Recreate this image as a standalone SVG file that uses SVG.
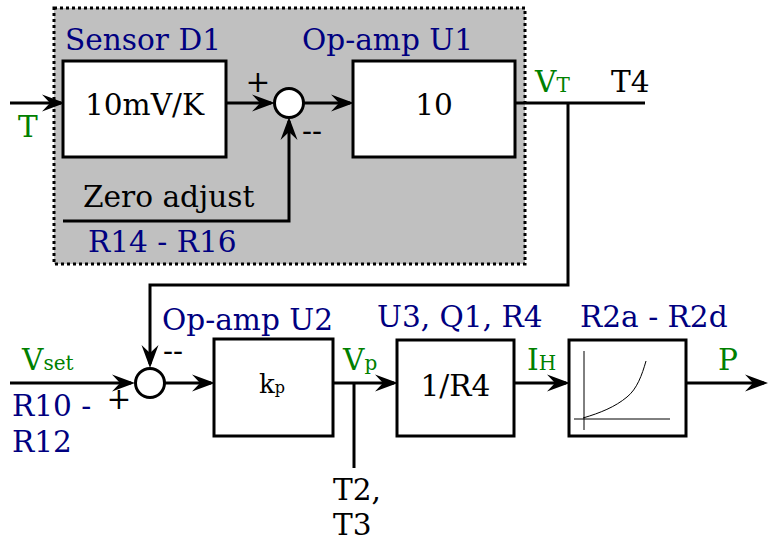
<svg xmlns="http://www.w3.org/2000/svg" width="769" height="542" viewBox="0 0 769 542">
<style>
text{font-family:"DejaVu Serif","Liberation Serif",serif;font-size:29.6px}
.b{fill:#000080}.g{fill:#008000}.k{fill:#000}
.box{fill:#fff;stroke:#000;stroke-width:3}
.w{fill:none;stroke:#000;stroke-width:3}
.thin{fill:none;stroke:#000;stroke-width:1}
.sub{font-size:20px}
</style>
<defs>
<marker id="ar" markerUnits="userSpaceOnUse" markerWidth="28" markerHeight="20" viewBox="-22 -10 28 20" refX="0" refY="0" orient="auto">
<path d="M4,0 L-19,-8.5 L-11,0 L-19,8.5 Z" fill="#000"/>
</marker>
</defs>
<g id="group-box">
<rect x="54" y="8" width="471" height="256" fill="#c0c0c0" stroke="#000" stroke-width="3" stroke-dasharray="3,3"/>
</g>
<g id="connectors">
<line class="w" x1="10" y1="103" x2="61" y2="103" marker-end="url(#ar)"/>
<line class="w" x1="226" y1="103" x2="271" y2="103" marker-end="url(#ar)"/>
<line class="w" x1="304" y1="103" x2="350" y2="103" marker-end="url(#ar)"/>
<polyline class="w" points="63,221 289,221 289,121" marker-end="url(#ar)"/>
<line class="w" x1="515" y1="103" x2="645" y2="103"/>
<polyline class="w" points="568,103 568,285 150,285 150,364" marker-end="url(#ar)"/>
<line class="w" x1="10" y1="383" x2="131" y2="383" marker-end="url(#ar)"/>
<line class="w" x1="165" y1="383" x2="211" y2="383" marker-end="url(#ar)"/>
<line class="w" x1="333" y1="383" x2="394" y2="383" marker-end="url(#ar)"/>
<line class="w" x1="354" y1="383" x2="354" y2="468"/>
<line class="w" x1="514" y1="383" x2="566" y2="383" marker-end="url(#ar)"/>
<line class="w" x1="686" y1="383" x2="764" y2="383" marker-end="url(#ar)"/>
</g>
<g id="sensor">
<rect class="box" x="63" y="61" width="163" height="96"/>
<text class="k" x="144.5" y="115" text-anchor="middle">10mV/K</text>
<text class="b" x="65" y="50">Sensor D1</text>
</g>
<g id="sum1">
<circle cx="289" cy="103" r="14.5" fill="#fff" stroke="#000" stroke-width="3"/>
<text class="k" x="258" y="92" text-anchor="middle">+</text>
<text class="k" x="302" y="141">--</text>
</g>
<g id="opamp-u1">
<rect class="box" x="353" y="61" width="162" height="96"/>
<text class="k" x="434" y="115" text-anchor="middle">10</text>
<text class="b" x="302" y="50">Op-amp U1</text>
</g>
<g id="labels-top">
<text class="g" x="18" y="137">T</text>
<text class="k" x="83" y="207">Zero adjust</text>
<text class="b" x="88" y="252">R14 - R16</text>
<text class="g" x="535" y="92">V<tspan class="sub">T</tspan></text>
<text class="k" x="611" y="92">T4</text>
</g>
<g id="sum2">
<circle cx="150" cy="383" r="14.5" fill="#fff" stroke="#000" stroke-width="3"/>
<text class="k" x="119" y="409" text-anchor="middle">+</text>
<text class="k" x="163" y="361">--</text>
</g>
<g id="opamp-u2">
<rect class="box" x="214" y="339" width="119" height="97"/>
<text class="k" x="272" y="393" text-anchor="middle" style="font-size:26px">k<tspan style="font-size:16px">p</tspan></text>
<text class="b" x="162" y="330">Op-amp U2</text>
</g>
<g id="u3">
<rect class="box" x="397" y="340" width="117" height="96"/>
<text class="k" x="455.5" y="396" text-anchor="middle">1/R4</text>
<text class="b" x="377" y="327">U3, Q1, R4</text>
</g>
<g id="r2">
<rect class="box" x="569" y="340" width="117" height="96"/>
<line class="thin" x1="584" y1="351" x2="584" y2="430"/>
<line class="thin" x1="574" y1="419" x2="670" y2="419"/>
<path class="thin" d="M583,418 C600,413 615,407 627,397 C637,389 642,375 646,361"/>
<text class="b" x="580" y="327">R2a - R2d</text>
</g>
<g id="labels-bottom">
<text class="g" x="22" y="370">V<tspan class="sub">set</tspan></text>
<text class="b" x="12" y="416">R10 -</text>
<text class="b" x="12" y="452">R12</text>
<text class="g" x="343" y="370">V<tspan class="sub">p</tspan></text>
<text class="g" x="527" y="370">I<tspan class="sub">H</tspan></text>
<text class="g" x="718" y="370">P</text>
<text class="k" x="333" y="500">T2,</text>
<text class="k" x="333" y="535">T3</text>
</g>
</svg>
